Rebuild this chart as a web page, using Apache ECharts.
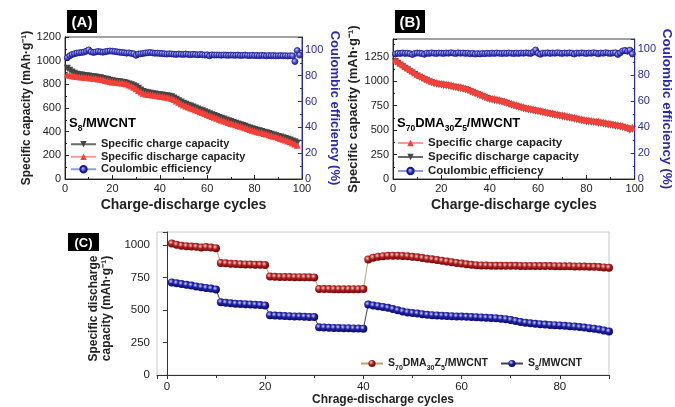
<!DOCTYPE html>
<html>
<head>
<meta charset="utf-8">
<script src="https://cdn.jsdelivr.net/npm/echarts@6/dist/echarts.min.js"></script>
<style>
    html, body { margin: 0; padding: 0; background: #fff; }
    #chart { width: 675px; height: 407px; }
</style>
</head>
<body>
<div id="chart"></div>
<script>
    // (A) S8/MWCNT, cycles 1..98 (capacity) and 1..99 (efficiency)
    var chargeA = [
        935, 918, 905, 893, 885, 881, 878, 875, 872, 870,
        867, 864, 861, 858, 855, 850, 845, 840, 835, 830,
        827, 824, 821, 818, 815, 810, 803, 796, 789, 780,
        766, 752, 740, 733, 728, 724, 721, 718, 715, 712,
        709, 706, 703, 699, 695, 685, 674, 662, 651, 640,
        632, 624, 616, 608, 600, 592, 584, 576, 568, 560,
        552, 544, 536, 528, 520, 513, 506, 499, 492, 485,
        478, 472, 465, 459, 452, 445, 438, 431, 425, 418,
        413, 407, 402, 396, 390, 384, 378, 372, 366, 360,
        354, 348, 342, 336, 330, 322, 314, 305
    ]
    var dischargeA = [
        880, 876, 872, 869, 866, 864, 861, 859, 857, 855,
        853, 851, 849, 846, 843, 838, 833, 828, 824, 820,
        818, 816, 814, 812, 810, 803, 795, 786, 775, 762,
        748, 735, 725, 719, 715, 712, 709, 706, 703, 700,
        697, 694, 690, 686, 680, 671, 660, 648, 636, 625,
        617, 609, 601, 593, 585, 577, 569, 561, 553, 545,
        537, 529, 521, 513, 505, 498, 491, 484, 477, 470,
        464, 458, 452, 446, 440, 433, 426, 419, 412, 405,
        400, 395, 390, 385, 380, 374, 368, 362, 356, 350,
        343, 336, 329, 322, 315, 305, 295, 285
    ]
    var effA = [
        94, 95.5, 96.5, 97, 97.5, 97.8, 98, 98.3, 99, 100,
        98.5, 98, 98.4, 98.8, 98.5, 98.2, 98.6, 98.9, 99.2, 99,
        98.8, 98.5, 98.2, 98, 97.8, 97.5, 97.7, 97.3, 97, 95.8,
        96.8, 97, 97.3, 97.6, 97.8, 98, 97.7, 97.4, 97.5, 97.3,
        97.2, 97, 96.8, 97, 96.9, 96.7, 96.5, 96.8, 96.6, 96.5,
        96.8, 96.5, 96.3, 96.6, 96.4, 96.2, 96.5, 96.3, 96, 96.2,
        95.4, 96.2, 96, 96.1, 96, 95.9, 96.1, 95.9, 95.8, 96,
        95.9, 95.8, 96, 95.7, 95.8, 96, 95.7, 95.6, 95.8, 95.6,
        95.7, 95.5, 95.8, 95.6, 95.4, 95.7, 95.5, 95.6, 95.4, 95.5,
        95.6, 95.4, 95.5, 95.3, 95.5, 95.4, 91, 99.5, 96
    ]

    // (B) S70DMA30Z5/MWCNT, cycles 1..99
    var chargeB = [
        1215, 1200, 1183, 1166, 1150, 1134, 1118, 1102, 1086, 1070,
        1058, 1046, 1034, 1022, 1010, 1000, 992, 985, 981, 978,
        975, 971, 966, 960, 955, 950, 946, 941, 936, 930,
        922, 911, 900, 890, 880, 870, 860, 850, 840, 830,
        826, 821, 816, 811, 805, 797, 789, 781, 773, 765,
        758, 751, 744, 737, 730, 725, 720, 715, 710, 705,
        700, 695, 690, 685, 680, 675, 670, 665, 660, 655,
        650, 645, 640, 635, 630, 625, 620, 615, 610, 605,
        602, 599, 596, 593, 590, 586, 581, 576, 572, 568,
        564, 559, 555, 550, 545, 538, 530, 520, 528
    ]
    var dischargeB = [
        1200, 1182, 1164, 1147, 1131, 1115, 1099, 1083, 1068, 1052,
        1040, 1027, 1015, 1003, 992, 982, 973, 967, 962, 959,
        956, 952, 947, 942, 937, 932, 927, 922, 917, 911,
        903, 892, 881, 871, 861, 851, 841, 831, 821, 812,
        807, 802, 797, 792, 786, 778, 770, 762, 754, 746,
        739, 732, 725, 718, 712, 706, 701, 696, 691, 686,
        681, 676, 671, 666, 661, 656, 651, 646, 641, 636,
        631, 626, 621, 616, 611, 606, 601, 596, 591, 586,
        583, 580, 577, 574, 570, 566, 561, 556, 552, 548,
        544, 539, 535, 530, 525, 518, 510, 500, 508
    ]
    var effB = [
        96.5, 97, 96.8, 97.2, 96.9, 97.1, 96.7, 96, 96.9, 97.2,
        97, 96.8, 96.2, 97.1, 96.9, 97.3, 97, 96.8, 97.2, 97,
        96.9, 97.2, 97, 97.4, 97.1, 96.8, 97.3, 97, 97.2, 96.9,
        97.1, 96.6, 97, 96.4, 96.8, 96.5, 96.9, 96.7, 97, 96.8,
        97.1, 96.9, 97.2, 97, 96.8, 97.1, 96.9, 97.2, 97, 96.8,
        97.1, 96.9, 97.2, 97, 97.3, 97.1, 96.9, 97.8, 99.5, 97,
        96.2, 97.1, 97, 97.3, 96.9, 97.2, 97, 97.4, 97.1, 96.9,
        97.2, 97, 97.3, 97.1, 96.4, 97.2, 97, 97.3, 97.1, 96.8,
        97.2, 97, 97.4, 97.1, 96.6, 97.2, 97, 97.4, 97.1, 96.9,
        97.2, 97.4, 96.1, 97.3, 98.8, 99.2, 98.6, 99.4, 96.5
    ]

    // (C) rate test, cycles 1..90
    var rateS70 = [
        1012, 1002, 995, 991, 988, 986, 981, 984, 980, 976,
        862, 859, 856, 854, 852, 851, 850, 849, 848, 846,
        758, 756, 755, 754, 754, 753, 753, 752, 752, 751,
        662, 661, 661, 660, 660, 660, 660, 660, 660, 661,
        888, 902, 910, 914, 917, 918, 918, 916, 913, 909,
        905, 900, 895, 890, 885, 879, 873, 867, 862, 857,
        852, 848, 845, 843, 842, 841, 840, 840, 840, 840,
        840, 839, 839, 839, 839, 838, 838, 838, 837, 837,
        836, 836, 835, 835, 834, 833, 832, 830, 828, 825
    ]
    var rateS8 = [
        712, 706, 700, 694, 688, 682, 676, 670, 665, 658,
        560, 556, 552, 549, 547, 545, 543, 541, 538, 535,
        460, 458, 456, 454, 453, 451, 450, 449, 447, 446,
        368, 366, 364, 363, 362, 361, 360, 359, 358, 357,
        542, 535, 530, 524, 517, 508, 498, 489, 482, 477,
        473, 468, 464, 461, 459, 457, 455, 453, 451, 450,
        448, 447, 445, 443, 441, 439, 437, 434, 430, 424,
        416, 409, 403, 398, 394, 391, 388, 386, 384, 382,
        379, 376, 373, 369, 365, 361, 357, 350, 343, 335
    ]

    var namesA = ['Specific charge capacity', 'Specific discharge capacity', 'Coulombic efficiency']
    // zero-width space keeps the (B) names apart from the (A) ones in the legends
    var namesB = ['Specific charge capacity\u200b', 'Specific discharge capacity\u200b', 'Coulombic efficiency\u200b']
    var namesC = ['S70DMA30Z5/MWCNT', 'S8/MWCNT']

    function pairs(arr) {
        return arr.map(function (v, i) { return [i + 1, v] })
    }

    var font = 'Arial'
    var ink = '#222'
    var blueAxis = '#2a2aa6'

    var subRich = {
        n: { fontFamily: font, fontWeight: 'bold', fontSize: 13, color: ink, lineHeight: 16 },
        s: { fontFamily: font, fontWeight: 'bold', fontSize: 8.5, color: ink, lineHeight: 20, verticalAlign: 'bottom' }
    }
    var subRichC = {
        n: { fontFamily: font, fontWeight: 'bold', fontSize: 10.5, color: ink, lineHeight: 13 },
        s: { fontFamily: font, fontWeight: 'bold', fontSize: 7, color: ink, lineHeight: 17, verticalAlign: 'bottom' }
    }

    function ball(light, mid, dark) {
        return {
            type: 'radial', x: 0.38, y: 0.35, r: 0.65,
            colorStops: [
                { offset: 0, color: light },
                { offset: 0.45, color: mid },
                { offset: 1, color: dark }
            ]
        }
    }
    var ring = ball('#c8c8f4', '#5a5ad0', '#1a1a96')

    function valueX(grid, name, size) {
        return {
            gridIndex: grid, type: 'value', min: 0, max: 100, interval: 20,
            name: name, nameLocation: 'middle', nameGap: 19,
            nameTextStyle: { fontFamily: font, fontWeight: 'bold', fontSize: size, color: ink },
            axisLine: { lineStyle: { color: ink } },
            axisTick: { inside: true, length: 4, lineStyle: { color: ink } },
            minorTick: { show: true, splitNumber: 2, length: 2, lineStyle: { color: ink } },
            axisLabel: { fontFamily: font, fontSize: 11, color: ink, margin: 4 },
            splitLine: { show: false }
        }
    }
    function leftY(grid, max, interval, gap, size) {
        return {
            gridIndex: grid, type: 'value', min: 0, max: max, interval: interval,
            name: 'Specific capacity (mAh·g⁻¹)', nameLocation: 'middle', nameGap: gap,
            nameTextStyle: { fontFamily: font, fontWeight: 'bold', fontSize: size, color: ink },
            axisLine: { show: true, lineStyle: { color: ink } },
            axisTick: { inside: true, length: 4, lineStyle: { color: ink } },
            minorTick: { show: true, splitNumber: 2, length: 2, lineStyle: { color: ink } },
            axisLabel: {
                fontFamily: font, fontSize: 11, color: ink, margin: 4,
                formatter: function (v) { return v % interval === 0 ? v : '' }
            },
            splitLine: { show: false }
        }
    }
    function rightY(grid, max, gap, size) {
        return {
            gridIndex: grid, type: 'value', position: 'right', min: 0, max: max, interval: 20,
            name: 'Coulombic efficiency (%)', nameLocation: 'middle', nameGap: gap, nameRotate: -90,
            nameTextStyle: { fontFamily: font, fontWeight: 'bold', fontSize: size, color: blueAxis },
            axisLine: { show: true, lineStyle: { color: blueAxis } },
            axisTick: { inside: true, length: 4, lineStyle: { color: blueAxis } },
            minorTick: { show: true, splitNumber: 2, length: 2, lineStyle: { color: blueAxis } },
            axisLabel: {
                fontFamily: font, fontSize: 11, color: blueAxis, margin: 3,
                formatter: function (v) { return v % 20 === 0 ? v : '' }
            },
            splitLine: { show: false }
        }
    }

    function tri(name, xi, yi, data, down, color, lineColor, z) {
        return {
            type: 'line', name: name, xAxisIndex: xi, yAxisIndex: yi, data: pairs(data),
            symbol: 'triangle', symbolRotate: down ? 180 : 0, symbolSize: 7,
            itemStyle: { color: color }, lineStyle: { color: lineColor, width: 1 }, z: z
        }
    }
    function eff(name, xi, yi, data) {
        return {
            type: 'line', name: name, xAxisIndex: xi, yAxisIndex: yi, data: pairs(data),
            symbol: 'circle', symbolSize: 6,
            itemStyle: { color: ring, borderColor: '#1a1a90', borderWidth: 0.8 },
            lineStyle: { color: '#8f9ce0', width: 1 }, z: 4
        }
    }

    function panelTag(x, y, w, h, label, size) {
        return {
            type: 'group', left: x, top: y,
            children: [
                { type: 'rect', shape: { x: 0, y: 0, width: w, height: h }, style: { fill: '#000' } },
                {
                    type: 'text', x: w / 2, y: h / 2 + 1,
                    style: { text: label, fill: '#fff', font: 'bold ' + size + 'px ' + font, align: 'center', verticalAlign: 'middle' }
                }
            ]
        }
    }

    var chart = echarts.init(document.getElementById('chart'))
    chart.setOption({
        animation: false,
        backgroundColor: '#fff',
        grid: [
            { left: 65, top: 37, width: 237, height: 142, show: true, borderColor: '#444', borderWidth: 1 },
            { left: 393, top: 39, width: 242, height: 140, show: true, borderColor: '#444', borderWidth: 1 },
            { left: 157, top: 232, width: 452, height: 145, show: true, borderColor: '#c8c8c8', borderWidth: 1 }
        ],
        xAxis: [
            valueX(0, 'Charge-discharge cycles', 14),
            valueX(1, 'Charge-discharge cycles', 14),
            {
                gridIndex: 2, type: 'value', min: -2, max: 90,
                name: 'Chrage-discharge cycles', nameLocation: 'middle', nameGap: 17,
                nameTextStyle: { fontFamily: font, fontWeight: 'bold', fontSize: 12, color: ink },
                axisLine: { lineStyle: { color: '#333' } },
                axisTick: { length: 4, lineStyle: { color: '#333' } },
                minorTick: { show: true, splitNumber: 2, length: 3, lineStyle: { color: '#333' } },
                axisLabel: {
                    fontFamily: font, fontSize: 11.5, color: ink, margin: 6,
                    formatter: function (v) { return v % 20 === 0 ? v : '' }
                },
                splitLine: { show: false }
            }
        ],
        yAxis: [
            leftY(0, 1200, 200, 32, 12),
            rightY(0, 110, 26, 13),
            leftY(1, 1430, 250, 33, 13),
            rightY(1, 108, 25, 13.5),
            {
                gridIndex: 2, type: 'value', min: 0, max: 1100, interval: 250,
                name: 'Specific discharge\ncapacity (mAh·g⁻¹)', nameLocation: 'middle', nameGap: 38,
                nameTextStyle: {
                    fontFamily: font, fontWeight: 'bold', fontSize: 12, color: ink, lineHeight: 13,
                    padding: [0, 10, 0, 0]
                },
                axisLine: { show: true, lineStyle: { color: '#333' } },
                axisTick: { length: 4, lineStyle: { color: '#333' } },
                axisLabel: {
                    fontFamily: font, fontSize: 11.5, color: ink, margin: 7,
                    formatter: function (v) { return v % 250 === 0 ? v : '' }
                },
                splitLine: { show: false }
            }
        ],
        legend: [
            {
                left: 70, top: 138, orient: 'vertical', itemGap: 0, itemWidth: 25, itemHeight: 8, padding: 0,
                selectedMode: false, data: namesA,
                textStyle: { fontFamily: font, fontWeight: 'bold', fontSize: 11, color: ink, lineHeight: 12.5 }
            },
            {
                left: 397, top: 136, orient: 'vertical', itemGap: 0, itemWidth: 25, itemHeight: 8, padding: 0,
                selectedMode: false, data: namesB,
                textStyle: { fontFamily: font, fontWeight: 'bold', fontSize: 11.5, color: ink, lineHeight: 14 }
            },
            {
                left: 360, top: 358, orient: 'horizontal', itemGap: 12, itemWidth: 22, itemHeight: 9, padding: 0,
                selectedMode: false, data: namesC,
                formatter: function (n) {
                    return n === namesC[0]
                        ? '{n|S}{s|70}{n|DMA}{s|30}{n|Z}{s|5}{n|/MWCNT}'
                        : '{n|S}{s|8}{n|/MWCNT}'
                },
                textStyle: { rich: subRichC }
            }
        ],
        graphic: [
            panelTag(67, 10, 30, 23, '(A)', 15),
            panelTag(395, 10, 30, 23, '(B)', 15),
            panelTag(68, 233, 31, 18, '(C)', 13),
            {
                type: 'text', left: 69, top: 117,
                style: { text: '{n|S}{s|8}{n|/MWCNT}', rich: subRich }
            },
            {
                type: 'text', left: 397, top: 117,
                style: { text: '{n|S}{s|70}{n|DMA}{s|30}{n|Z}{s|5}{n|/MWCNT}', rich: subRich }
            }
        ],
        series: [
            tri(namesA[0], 0, 0, chargeA, true, '#454545', '#6a6a6a', 2),
            tri(namesA[1], 0, 0, dischargeA, false, '#f2403a', '#f59a96', 3),
            eff(namesA[2], 0, 1, effA),
            tri(namesB[1], 1, 2, dischargeB, true, '#454545', '#6a6a6a', 2),
            tri(namesB[0], 1, 2, chargeB, false, '#f2403a', '#f59a96', 3),
            eff(namesB[2], 1, 3, effB),
            {
                type: 'line', name: namesC[0], xAxisIndex: 2, yAxisIndex: 4, data: pairs(rateS70),
                symbol: 'circle', symbolSize: 8,
                itemStyle: { color: ball('#f6d0d0', '#b22222', '#6a0505') },
                lineStyle: { color: '#b3a86a', width: 1 }
            },
            {
                type: 'line', name: namesC[1], xAxisIndex: 2, yAxisIndex: 4, data: pairs(rateS8),
                symbol: 'circle', symbolSize: 8,
                itemStyle: { color: ball('#d0d0f6', '#2222a8', '#080860') },
                lineStyle: { color: '#444', width: 1 }
            }
        ]
    })
</script>
</body>
</html>
